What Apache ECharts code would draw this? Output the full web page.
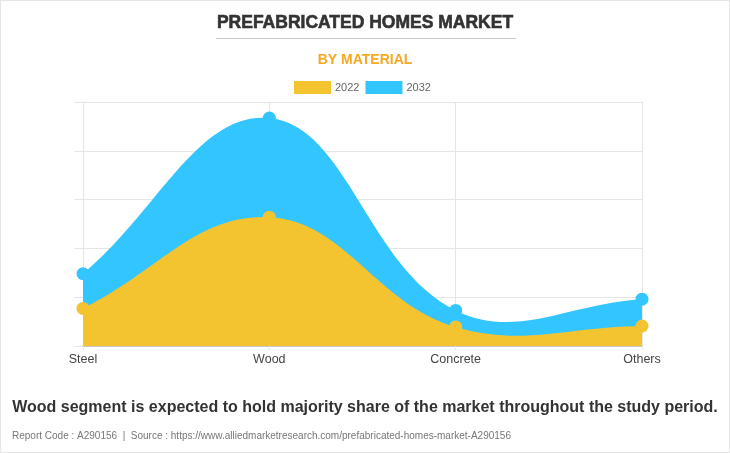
<!DOCTYPE html>
<html><head><meta charset="utf-8">
<script src="https://cdn.jsdelivr.net/npm/echarts@6/dist/echarts.min.js"></script>
<style>html,body{margin:0;padding:0;background:#fff}#c{width:730px;height:453px;box-sizing:border-box;border:1px solid #e6e6e6}</style>
</head><body><div id="c"></div>
<script>
const categories = ['Steel', 'Wood', 'Concrete', 'Others'];
const values2022 = [0.77, 2.64, 0.39, 0.41];
const values2032 = [1.48, 4.67, 0.73, 0.96];
const seriesNames = ['2022', '2032'];
const colors = {'2022': '#f4c430', '2032': '#33c5ff'};

const chart = echarts.init(document.getElementById('c'));
const F = '"Liberation Sans", Arial, sans-serif';

// Cardinal spline (tension 0.4) area path built from axis coordinates
function splinePath(api, values, tension) {
  const pts = values.map((v, i) => api.coord([i, v]));
  const n = pts.length;
  const cps = pts.map((p, i) => {
    const prev = pts[i - 1] || p, next = pts[i + 1] || p;
    const d01 = Math.hypot(p[0] - prev[0], p[1] - prev[1]);
    const d12 = Math.hypot(next[0] - p[0], next[1] - p[1]);
    let s01 = d01 / (d01 + d12), s12 = d12 / (d01 + d12);
    if (isNaN(s01)) s01 = 0; if (isNaN(s12)) s12 = 0;
    const fa = tension * s01, fb = tension * s12;
    return {
      prev: [p[0] - fa * (next[0] - prev[0]), p[1] - fa * (next[1] - prev[1])],
      next: [p[0] + fb * (next[0] - prev[0]), p[1] + fb * (next[1] - prev[1])]
    };
  });
  const base0 = api.coord([0, 0]), baseN = api.coord([n - 1, 0]);
  let d = 'M' + base0[0] + ' ' + base0[1] + ' L' + pts[0][0] + ' ' + pts[0][1];
  for (let i = 1; i < n; i++) {
    const a = cps[i - 1].next, b = cps[i].prev;
    d += ' C' + a[0] + ' ' + a[1] + ' ' + b[0] + ' ' + b[1] + ' ' + pts[i][0] + ' ' + pts[i][1];
  }
  d += ' L' + baseN[0] + ' ' + baseN[1] + ' Z';
  return d;
}
function areaSeries(name, values, z) {
  return {
    type: 'custom', name: name + ' area', data: [[0, 0]], z: z, silent: true,
    encode: {x: 0, y: 1},
    renderItem: (params, api) => ({
      type: 'path', shape: {pathData: splinePath(api, values, 0.4)},
      style: {fill: colors[name], stroke: null}
    })
  };
}
function pointSeries(name, values, z) {
  return {
    name: name, type: 'line', data: values, symbol: 'circle', symbolSize: 13,
    itemStyle: {color: colors[name]}, lineStyle: {width: 0, opacity: 0}, z: z
  };
}

chart.setOption({
  backgroundColor: '#fff',
  animation: false,
  title: [
    {text: 'PREFABRICATED HOMES MARKET', left: 'center', top: 8,
     textStyle: {fontFamily: F, fontSize: 17.5, fontWeight: 'bold', color: '#333', textBorderColor: '#333', textBorderWidth: 0.6}},
    {text: 'BY MATERIAL', left: 'center', top: 47,
     textStyle: {fontFamily: F, fontSize: 14, fontWeight: 'bold', color: '#f7a823'}}
  ],
  legend: {
    top: 80, left: 293, padding: 0, itemWidth: 37, itemHeight: 13, itemGap: 6,
    icon: 'rect',
    data: seriesNames,
    textStyle: {fontFamily: F, fontSize: 11, color: '#666', padding: [0, 0, 0, -1]}
  },
  graphic: [
    {type: 'line', shape: {x1: 215, y1: 37.5, x2: 515, y2: 37.5}, style: {stroke: '#c8c8c8', lineWidth: 1}},
    {type: 'text', left: 'center', top: 399, style: {text: 'Wood segment is expected to hold majority share of the market throughout the study period.', font: 'bold 16px "Liberation Sans", Arial, sans-serif', fill: '#333'}},
    {type: 'text', left: 11, top: 430, style: {text: 'Report Code : A290156  |  Source : https://www.alliedmarketresearch.com/prefabricated-homes-market-A290156', font: '10px "Liberation Sans", Arial, sans-serif', fill: '#777'}}
  ],
  grid: {left: 82, right: 87, top: 101, bottom: 106},
  xAxis: {
    type: 'category', data: categories, boundaryGap: false,
    axisLine: {lineStyle: {color: '#c8c8c8', width: 2}},
    axisTick: {show: true, length: 4, lineStyle: {color: '#e6e6e6'}},
    axisLabel: {fontFamily: F, fontSize: 12.5, color: '#444', margin: 7},
    splitLine: {show: true, lineStyle: {color: '#e6e6e6'}}
  },
  yAxis: {
    type: 'value', min: 0, max: 5, interval: 1,
    axisLabel: {show: false},
    axisLine: {show: true, lineStyle: {color: '#e6e6e6'}},
    axisTick: {show: true, length: 9, lineStyle: {color: '#e6e6e6'}},
    splitLine: {show: true, lineStyle: {color: '#e6e6e6'}}
  },
  series: [
    areaSeries('2032', values2032, 2),
    areaSeries('2022', values2022, 3),
    pointSeries('2032', values2032, 4),
    pointSeries('2022', values2022, 5)
  ]
});
</script></body></html>
